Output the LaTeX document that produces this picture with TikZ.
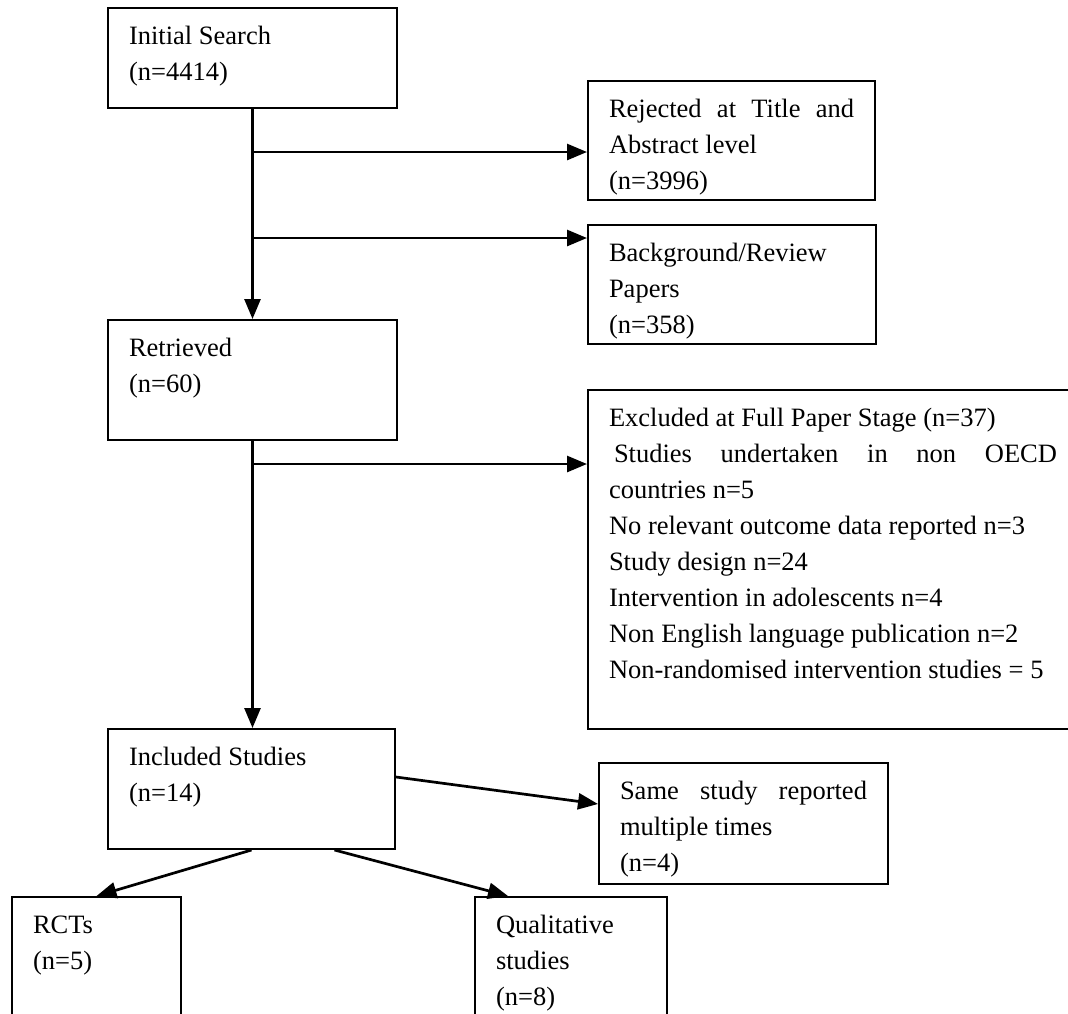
\documentclass[tikz,border=0pt]{standalone}
\usepackage{fontspec}
\setmainfont{Liberation Serif}
\usetikzlibrary{arrows.meta}

% box text: width, height, lines
\newcommand{\boxtxt}[3]{\parbox[c][#2pt][t]{#1pt}{\rule{0pt}{36pt}#3}}
\newcommand{\fullline}[1]{\makebox[\linewidth][s]{#1}}

\begin{document}
\begin{tikzpicture}[x=1pt,y=-1pt,
	flowbox/.style={draw=black,line width=2pt,anchor=north west,inner xsep=21pt,inner ysep=0pt,font=\fontsize{26.5}{36}\selectfont},
	flowarrow/.style={line width=2.7pt,-{Triangle[length=20pt,width=16pt]}}]
	\useasboundingbox (0,0) rectangle (1068,1013);

	\node[flowbox] (init)   at (107,7)   {\boxtxt{247}{100}{Initial Search\\(n=4414)}};
	\node[flowbox] (reject) at (587,80)  {\boxtxt{245}{119}{\fullline{Rejected at Title and}\\Abstract level\\(n=3996)}};
	\node[flowbox] (backg)  at (587,224) {\boxtxt{246}{119}{Background/Review\\Papers\\(n=358)}};
	\node[flowbox] (retr)   at (107,319) {\boxtxt{247}{120}{Retrieved\\(n=60)}};
	\node[flowbox] (excl)   at (587,389) {\boxtxt{448}{339}{Excluded at Full Paper Stage (n=37)\\
		\fullline{\hspace{5pt}Studies undertaken in non OECD}\\
		countries n=5\\
		No relevant outcome data reported n=3\\
		Study design n=24\\
		Intervention in adolescents n=4\\
		Non English language publication n=2\\
		Non-randomised intervention studies = 5}};
	\node[flowbox] (incl)   at (107,728) {\boxtxt{245}{120}{Included Studies\\(n=14)}};
	\node[flowbox] (same)   at (598,762) {\boxtxt{247}{121}{\fullline{Same study reported}\\multiple times\\(n=4)}};
	\node[flowbox] (rcts)   at (11,896)  {\boxtxt{127}{140}{RCTs\\(n=5)}};
	\node[flowbox] (qual)   at (474,896) {\boxtxt{150}{140}{Qualitative\\studies\\(n=8)}};

	\coordinate (j1) at (251.5,152);
	\coordinate (j2) at (251.5,238);
	\coordinate (j3) at (251.5,464);

	\draw[flowarrow] (init) -- (retr);
	\draw[flowarrow] (j1) -- (j1 -| reject.west);
	\draw[flowarrow] (j2) -- (j2 -| backg.west);
	\draw[flowarrow] (retr) -- (retr.south |- incl.north);
	\draw[flowarrow] (j3) -- (j3 -| excl.west);
	\draw[flowarrow] ([yshift=12pt]incl.east) -- ([yshift=19.5pt]same.west);
	\draw[flowarrow] (incl.south) -- (rcts.north);
	\draw[flowarrow] ([xshift=83pt]incl.south) -- ([xshift=-63pt]qual.north);

\end{tikzpicture}
\end{document}
